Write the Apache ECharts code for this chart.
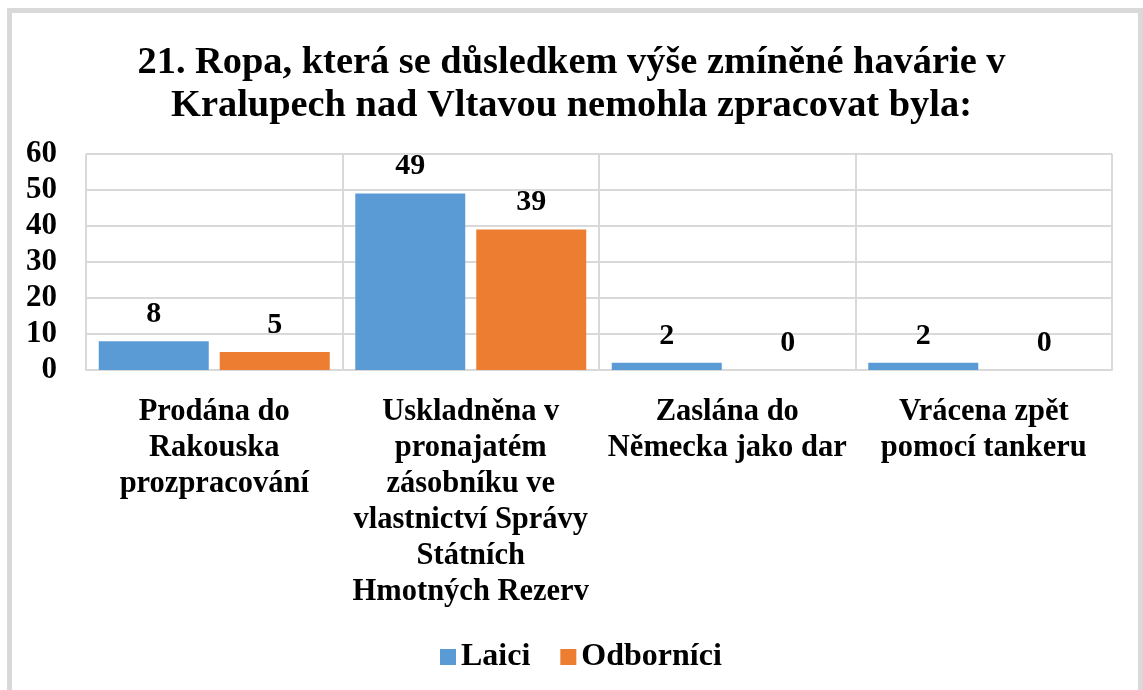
<!DOCTYPE html>
<html>
<head>
<meta charset="utf-8">
<script src="https://cdn.jsdelivr.net/npm/echarts@6/dist/echarts.min.js"></script>
<style>
    html, body { margin: 0; padding: 0; background: #fff; }
    #chart { width: 1143px; height: 690px; }
</style>
</head>
<body>
<div id="chart"></div>
<script>
// data
const categories = [
    'Prodána do\nRakouska\nprozpracování',
    'Uskladněna v\npronajatém\nzásobníku ve\nvlastnictví Správy\nStátních\nHmotných Rezerv',
    'Zaslána do\nNěmecka jako dar',
    'Vrácena zpět\npomocí tankeru',
];
const laici = [8, 49, 2, 2];
const odbornici = [5, 39, 0, 0];
const seriesNames = ['Laici', 'Odborníci'];

const font = '"Liberation Serif", "Times New Roman", serif';

let chart = echarts.init(document.getElementById('chart'));
let option = {
    animation: false,
    color: ['#5B9BD5', '#ED7D31'],
    title: {
        text: '21. Ropa, která se důsledkem výše zmíněné havárie v\nKralupech nad Vltavou nemohla zpracovat byla:',
        left: 'center',
        top: 37,
        textStyle: {
            fontFamily: font,
            fontWeight: 'bold',
            fontSize: 38.4,
            lineHeight: 43,
            color: '#000',
        },
    },
    graphic: [
        {
            type: 'rect',
            shape: { x: 9.5, y: 10.5, width: 1131, height: 700 },
            style: { fill: 'none', stroke: '#d9d9d9', lineWidth: 5 },
            silent: true,
        },
    ],
    legend: {
        top: 636,
        left: 435,
        itemWidth: 16,
        itemHeight: 16,
        itemGap: 30,
        icon: 'rect',
        data: seriesNames,
        textStyle: {
            fontFamily: font,
            fontWeight: 'bold',
            fontSize: 32,
            color: '#000',
        },
    },
    grid: {
        left: 86,
        right: 31,
        top: 154,
        bottom: 320,
    },
    xAxis: {
        type: 'category',
        data: categories,
        axisTick: { show: false },
        axisLine: { lineStyle: { color: '#d9d9d9', width: 2 } },
        splitLine: { show: true, lineStyle: { color: '#d9d9d9', width: 2 } },
        axisLabel: {
            interval: 0,
            margin: 24,
            fontFamily: font,
            fontWeight: 'bold',
            fontSize: 30.5,
            lineHeight: 36,
            color: '#000',
        },
    },
    yAxis: {
        type: 'value',
        min: 0,
        max: 60,
        interval: 10,
        axisLine: { show: false },
        axisTick: { show: false },
        splitLine: { lineStyle: { color: '#d9d9d9', width: 2 } },
        axisLabel: {
            margin: 29,
            fontFamily: font,
            fontWeight: 'bold',
            fontSize: 31,
            color: '#000',
        },
    },
    series: [
        {
            name: seriesNames[0],
            type: 'bar',
            data: laici,
            barWidth: 110,
            barGap: '10%',
            label: {
                show: true,
                position: 'top',
                distance: 12,
                fontFamily: font,
                fontWeight: 'bold',
                fontSize: 30,
                color: '#000',
            },
        },
        {
            name: seriesNames[1],
            type: 'bar',
            data: odbornici,
            barWidth: 110,
            barGap: '10%',
            label: {
                show: true,
                position: 'top',
                distance: 12,
                fontFamily: font,
                fontWeight: 'bold',
                fontSize: 30,
                color: '#000',
            },
        },
    ],
};
chart.setOption(option);
</script>
</body>
</html>
